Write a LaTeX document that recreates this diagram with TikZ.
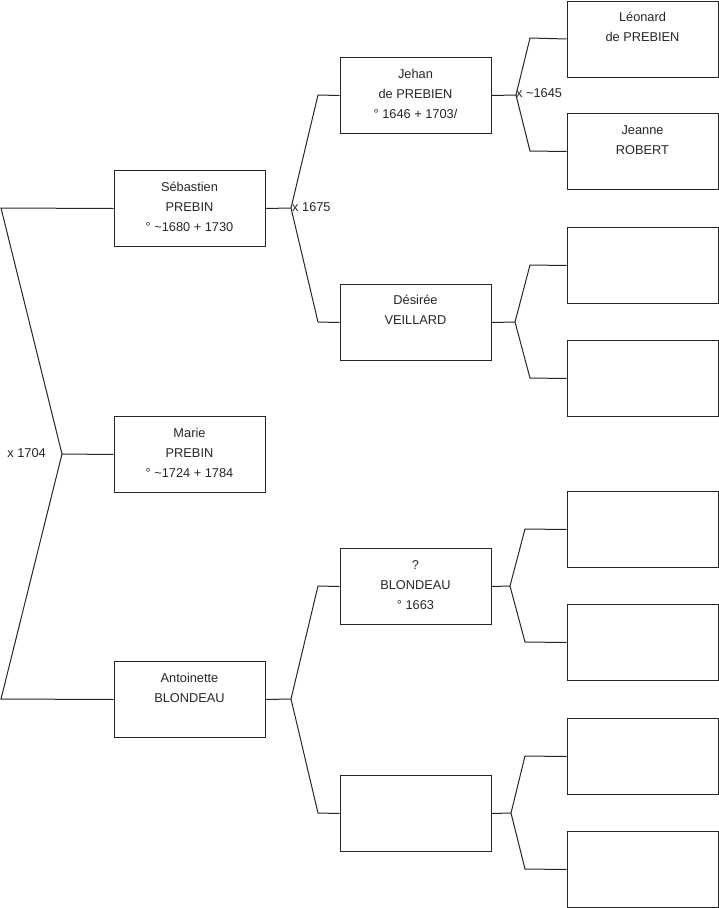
\documentclass[tikz,border=0pt]{standalone}
\usepackage{fontspec}
\setmainfont{Liberation Sans}
\begin{document}
\begin{tikzpicture}[x=1pt,y=-1pt,
  box/.style={draw=black!85, line width=1pt, minimum width=151pt, minimum height=76pt, inner sep=0pt, anchor=north, rectangle},
  txt/.style={anchor=base, align=center, inner sep=0pt, font=\fontsize{12.8}{20}\selectfont, text=black!85},
  lbl/.style={inner sep=0pt, font=\fontsize{12.8}{20}\selectfont, text=black!85},
  link/.style={draw=black!85, line width=1pt}]
\useasboundingbox (0,0) rectangle (719,908);
% generation 1
\node[box] (seb) at (189.5,170) {};
\node[box] (mar) at (189.5,416) {};
\node[box] (ant) at (189.5,661) {};
% generation 2
\node[box] (jeh) at (415.5,57) {};
\node[box] (des) at (415.5,284) {};
\node[box] (blo) at (415.5,548) {};
\node[box] (emp) at (415.5,775) {};
% generation 3
\node[box] (leo) at (642.5,0.5) {};
\node[box] (jea) at (642.5,113) {};
\node[box] (g3c) at (642.5,227) {};
\node[box] (g3d) at (642.5,340) {};
\node[box] (g3e) at (642.5,491) {};
\node[box] (g3f) at (642.5,604) {};
\node[box] (g3g) at (642.5,718) {};
\node[box] (g3h) at (642.5,831) {};
% texts (anchor = baseline of the last line)
\node[txt] (sebt) at (189.5,231.5) {Sébastien\\PREBIN\\° \textasciitilde1680 + 1730};
\node[txt] (mart) at (189.5,477.5) {Marie\\PREBIN\\° \textasciitilde1724 + 1784};
\node[txt] (antt) at (189.5,702.5) {Antoinette\\BLONDEAU};
\node[txt] (jeht) at (415.5,118.5) {Jehan\\de PREBIEN\\° 1646 + 1703/};
\node[txt] (dest) at (415.5,324.5) {Désirée\\VEILLARD};
\node[txt] (blot) at (415.5,609.5) {?\\BLONDEAU\\° 1663};
\node[txt] (leot) at (642.5,41) {Léonard\\de PREBIEN};
\node[txt] (jeat) at (642.5,154) {Jeanne\\ROBERT};
% junction coordinates
\coordinate (r0) at (62,454);
\coordinate (r0a) at (1,208);
\coordinate (r0b) at (1,699);
\coordinate (s0) at (291,208);
\coordinate (s0a) at (318,95);
\coordinate (s0b) at (318,322);
\coordinate (a0) at (291,699);
\coordinate (a0a) at (318,586);
\coordinate (a0b) at (318,813);
\coordinate (j0) at (516,95);
\coordinate (j0a) at (530,38);
\coordinate (j0b) at (530,151);
\coordinate (d0) at (515,322);
\coordinate (d0a) at (530,265);
\coordinate (d0b) at (530,378);
\coordinate (b0) at (510,586);
\coordinate (b0a) at (525,529);
\coordinate (b0b) at (525,642);
\coordinate (e0) at (511,813);
\coordinate (e0a) at (525,756);
\coordinate (e0b) at (525,869);
% connectors
\draw[link] (seb.west) -- (r0a) -- (r0) -- (r0b) -- (ant.west);
\draw[link] (r0) -- (mar.west);
\draw[link] (seb.east) -- (s0);
\draw[link] (jeh.west) -- (s0a) -- (s0) -- (s0b) -- (des.west);
\draw[link] (ant.east) -- (a0);
\draw[link] (blo.west) -- (a0a) -- (a0) -- (a0b) -- (emp.west);
\draw[link] (jeh.east) -- (j0);
\draw[link] (leo.west) -- (j0a) -- (j0) -- (j0b) -- (jea.west);
\draw[link] (des.east) -- (d0);
\draw[link] (g3c.west) -- (d0a) -- (d0) -- (d0b) -- (g3d.west);
\draw[link] (blo.east) -- (b0);
\draw[link] (g3e.west) -- (b0a) -- (b0) -- (b0b) -- (g3f.west);
\draw[link] (emp.east) -- (e0);
\draw[link] (g3g.west) -- (e0a) -- (e0) -- (e0b) -- (g3h.west);
% marriage labels
\node[lbl, anchor=east] (m1704) at (46,453) {x 1704};
\node[lbl, anchor=west] (m1675) at (292,207) {x 1675};
\node[lbl, anchor=west] (m1645) at (516,93) {x \textasciitilde1645};
\end{tikzpicture}
\end{document}
